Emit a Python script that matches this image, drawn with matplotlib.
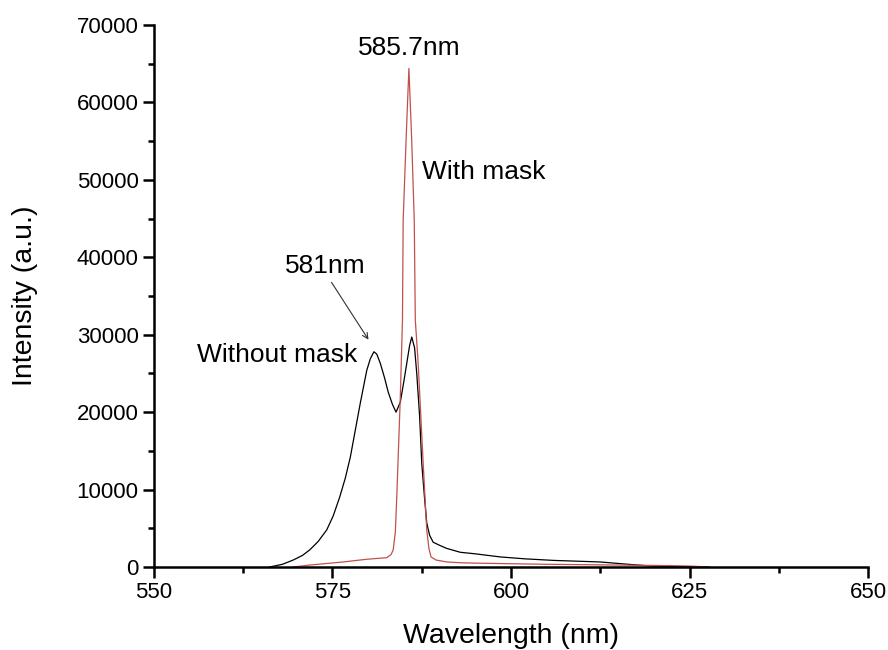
import matplotlib.pyplot as plt
from matplotlib.ticker import MultipleLocator

plt.rcParams['font.family'] = ['Liberation Sans', 'DejaVu Sans']

# Spectrum without mask (nm, a.u.)
wl_nomask = [566.2, 568.0, 569.5, 570.8, 571.8, 573.0, 574.2, 575.1, 576.0, 576.8,
             577.5, 578.2, 578.9, 579.8, 580.3, 580.8, 581.2, 581.7, 582.3, 582.8,
             583.4, 583.9, 584.5, 585.0, 585.4, 585.8, 586.1, 586.5, 586.8, 587.2,
             587.5, 587.9, 588.2, 588.6, 589.1, 590.0, 591.0, 592.9, 595.0, 598.5,
             602.0, 606.0, 612.5, 616.0, 619.5, 624.0, 627.7]
int_nomask = [0, 350, 900, 1500, 2200, 3300, 4800, 6600, 9000, 11500,
              14200, 17700, 21200, 25400, 26900, 27800, 27500, 26300, 24400, 22600,
              21000, 20000, 21300, 24000, 26300, 28600, 29700, 28300, 25000, 19500,
              13400, 8800, 5700, 4100, 3200, 2800, 2400, 1900, 1700, 1300,
              1050, 850, 650, 380, 130, 60, 0]

# Spectrum with mask (nm, a.u.)
wl_mask = [569.5, 571.8, 576.5, 579.8, 582.6, 583.2, 583.5, 583.8, 584.0, 584.5,
           584.8, 584.9, 585.3, 585.7, 586.1, 586.45, 586.6, 587.0, 587.7, 588.2,
           588.5, 588.8, 589.5, 591.0, 592.9, 595.0, 600.0, 605.0, 610.0, 615.0,
           620.0, 625.0, 627.8]
int_mask = [0, 250, 650, 1000, 1200, 1600, 2200, 4500, 9000, 22000,
            31900, 44800, 55000, 64400, 55000, 44800, 31900, 26300, 13400, 4800,
            2400, 1300, 900, 650, 550, 500, 420, 350, 300, 250,
            200, 120, 0]

fig = plt.figure(figsize=(8.88, 6.5), dpi=100)
ax = fig.add_axes([0.1734, 0.1277, 0.8041, 0.8338])

ax.plot(wl_nomask, int_nomask, color='black', lw=0.9)
ax.plot(wl_mask, int_mask, color='#c0504d', lw=0.9)

ax.set_xlim(550, 650)
ax.set_ylim(0, 70000)
ax.xaxis.set_major_locator(MultipleLocator(25))
ax.xaxis.set_minor_locator(MultipleLocator(12.5))
ax.yaxis.set_major_locator(MultipleLocator(10000))
ax.yaxis.set_minor_locator(MultipleLocator(5000))

for side in ['top', 'right']:
    ax.spines[side].set_visible(False)
for side in ['left', 'bottom']:
    ax.spines[side].set_linewidth(1.8)
ax.tick_params(which='major', direction='out', length=8, width=1.8, labelsize=16, pad=3)
ax.tick_params(which='minor', direction='out', length=4.5, width=1.8)

ax.set_xlabel('Wavelength (nm)', fontsize=20.5, labelpad=14)
ax.set_ylabel('Intensity (a.u.)', fontsize=20.5, labelpad=28)

ax.text(585.7, 65500, '585.7nm', fontsize=19, ha='center', va='bottom')
ax.text(587.6, 51000, 'With mask', fontsize=19, ha='left', va='center')
ax.text(574.0, 38900, '581nm', fontsize=19, ha='center', va='center')
ax.text(578.4, 27400, 'Without mask', fontsize=19, ha='right', va='center')
ax.annotate('', xy=(580.25, 29060), xytext=(574.65, 37070),
            arrowprops=dict(arrowstyle='->', color='#333333', lw=0.8))

plt.savefig('out.png', dpi=100)
